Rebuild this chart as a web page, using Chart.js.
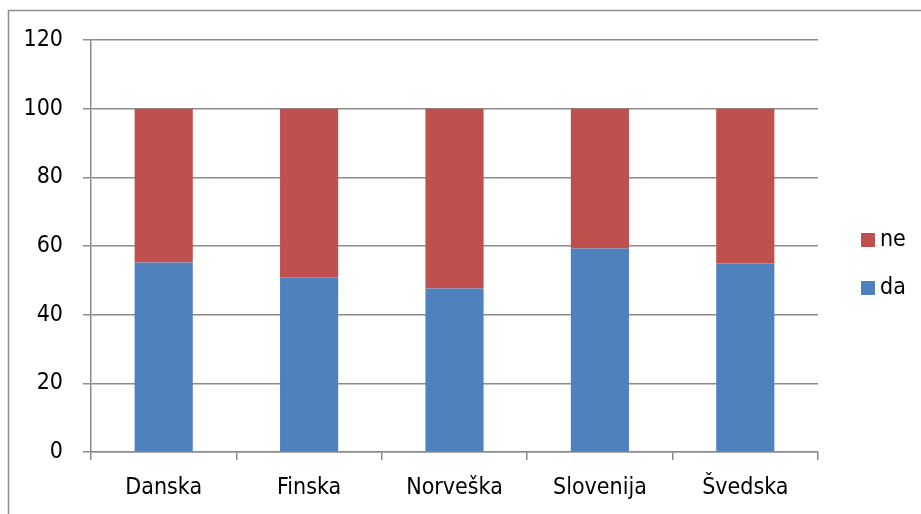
<!DOCTYPE html>
<html>
<head>
<meta charset="utf-8">
<script src="https://cdn.jsdelivr.net/npm/chart.js@4/dist/chart.umd.min.js"></script>
<style>
  html, body { margin: 0; padding: 0; background: #ffffff; }
  #wrap { width: 921px; height: 514px; position: relative; }
</style>
</head>
<body>
<div id="wrap"><canvas id="c" width="921" height="514"></canvas></div>
<script>
// Survey shares per country (percent)
const countries = ['Danska', 'Finska', 'Norveška', 'Slovenija', 'Švedska'];
const daValues = [55.2, 50.8, 47.6, 59.3, 54.9];
const neValues = [44.8, 49.2, 52.4, 40.7, 45.1];
const yTicks = [0, 20, 40, 60, 80, 100, 120];

const FONT = "'DejaVu Sans Condensed', 'Liberation Sans Narrow', sans-serif";
const FONT_SIZE = 23;
const GRID = '#8c8c8c';

// Thin frame around the whole chart object
const framePlugin = {
  id: 'frame',
  beforeDraw(chart) {
    const ctx = chart.ctx;
    ctx.save();
    ctx.strokeStyle = '#8e8e8e';
    ctx.lineWidth = 1.5;
    ctx.strokeRect(8.5, 10.5, 2000, 2000);
    ctx.restore();
  }
};

// Legend on the right: last series first, square swatch + label
const sideLegend = {
  id: 'sideLegend',
  afterDraw(chart) {
    const ctx = chart.ctx;
    const area = chart.chartArea;
    const ds = chart.data.datasets.slice().reverse();
    const x = area.right + 43;
    const startY = 240;
    const step = 48;
    ctx.save();
    ctx.font = FONT_SIZE + 'px ' + FONT;
    ctx.textBaseline = 'middle';
    ctx.textAlign = 'left';
    ds.forEach((d, i) => {
      const cy = startY + i * step;
      ctx.fillStyle = d.backgroundColor;
      ctx.fillRect(x, cy - 7, 14, 14);
      ctx.fillStyle = '#000000';
      ctx.fillText(d.label, x + 19, cy);
    });
    ctx.restore();
  }
};

new Chart(document.getElementById('c'), {
  type: 'bar',
  data: {
    labels: countries,
    datasets: [
      { label: 'da', data: daValues, backgroundColor: '#4F81BD' },
      { label: 'ne', data: neValues, backgroundColor: '#C0504D' }
    ]
  },
  options: {
    responsive: false,
    animation: false,
    devicePixelRatio: 1,
    layout: { padding: { left: 0, top: 40, right: 103, bottom: 0 } },
    plugins: {
      legend: { display: false },
      tooltip: { enabled: false }
    },
    datasets: {
      bar: { categoryPercentage: 1.0, barPercentage: 0.4 }
    },
    scales: {
      x: {
        stacked: true,
        afterFit(scale) { scale.height = 62; },
        grid: {
          offset: true,
          drawOnChartArea: false,
          drawTicks: true,
          tickLength: 8,
          color: GRID,
          lineWidth: 1.5
        },
        border: { color: GRID, width: 1.5 },
        ticks: {
          color: '#000000',
          font: { family: FONT, size: FONT_SIZE },
          padding: 14,
          maxRotation: 0,
          autoSkip: false
        }
      },
      y: {
        stacked: true,
        min: 0,
        max: 120,
        afterFit(scale) { scale.width = 91; },
        afterBuildTicks(scale) { scale.ticks = yTicks.map(v => ({ value: v })); },
        grid: {
          drawTicks: true,
          tickLength: 8,
          color: GRID,
          lineWidth: 1.5
        },
        border: { color: GRID, width: 1.5 },
        ticks: {
          color: '#000000',
          font: { family: FONT, size: FONT_SIZE },
          padding: 20
        }
      }
    }
  },
  plugins: [framePlugin, sideLegend]
});
</script>
</body>
</html>
